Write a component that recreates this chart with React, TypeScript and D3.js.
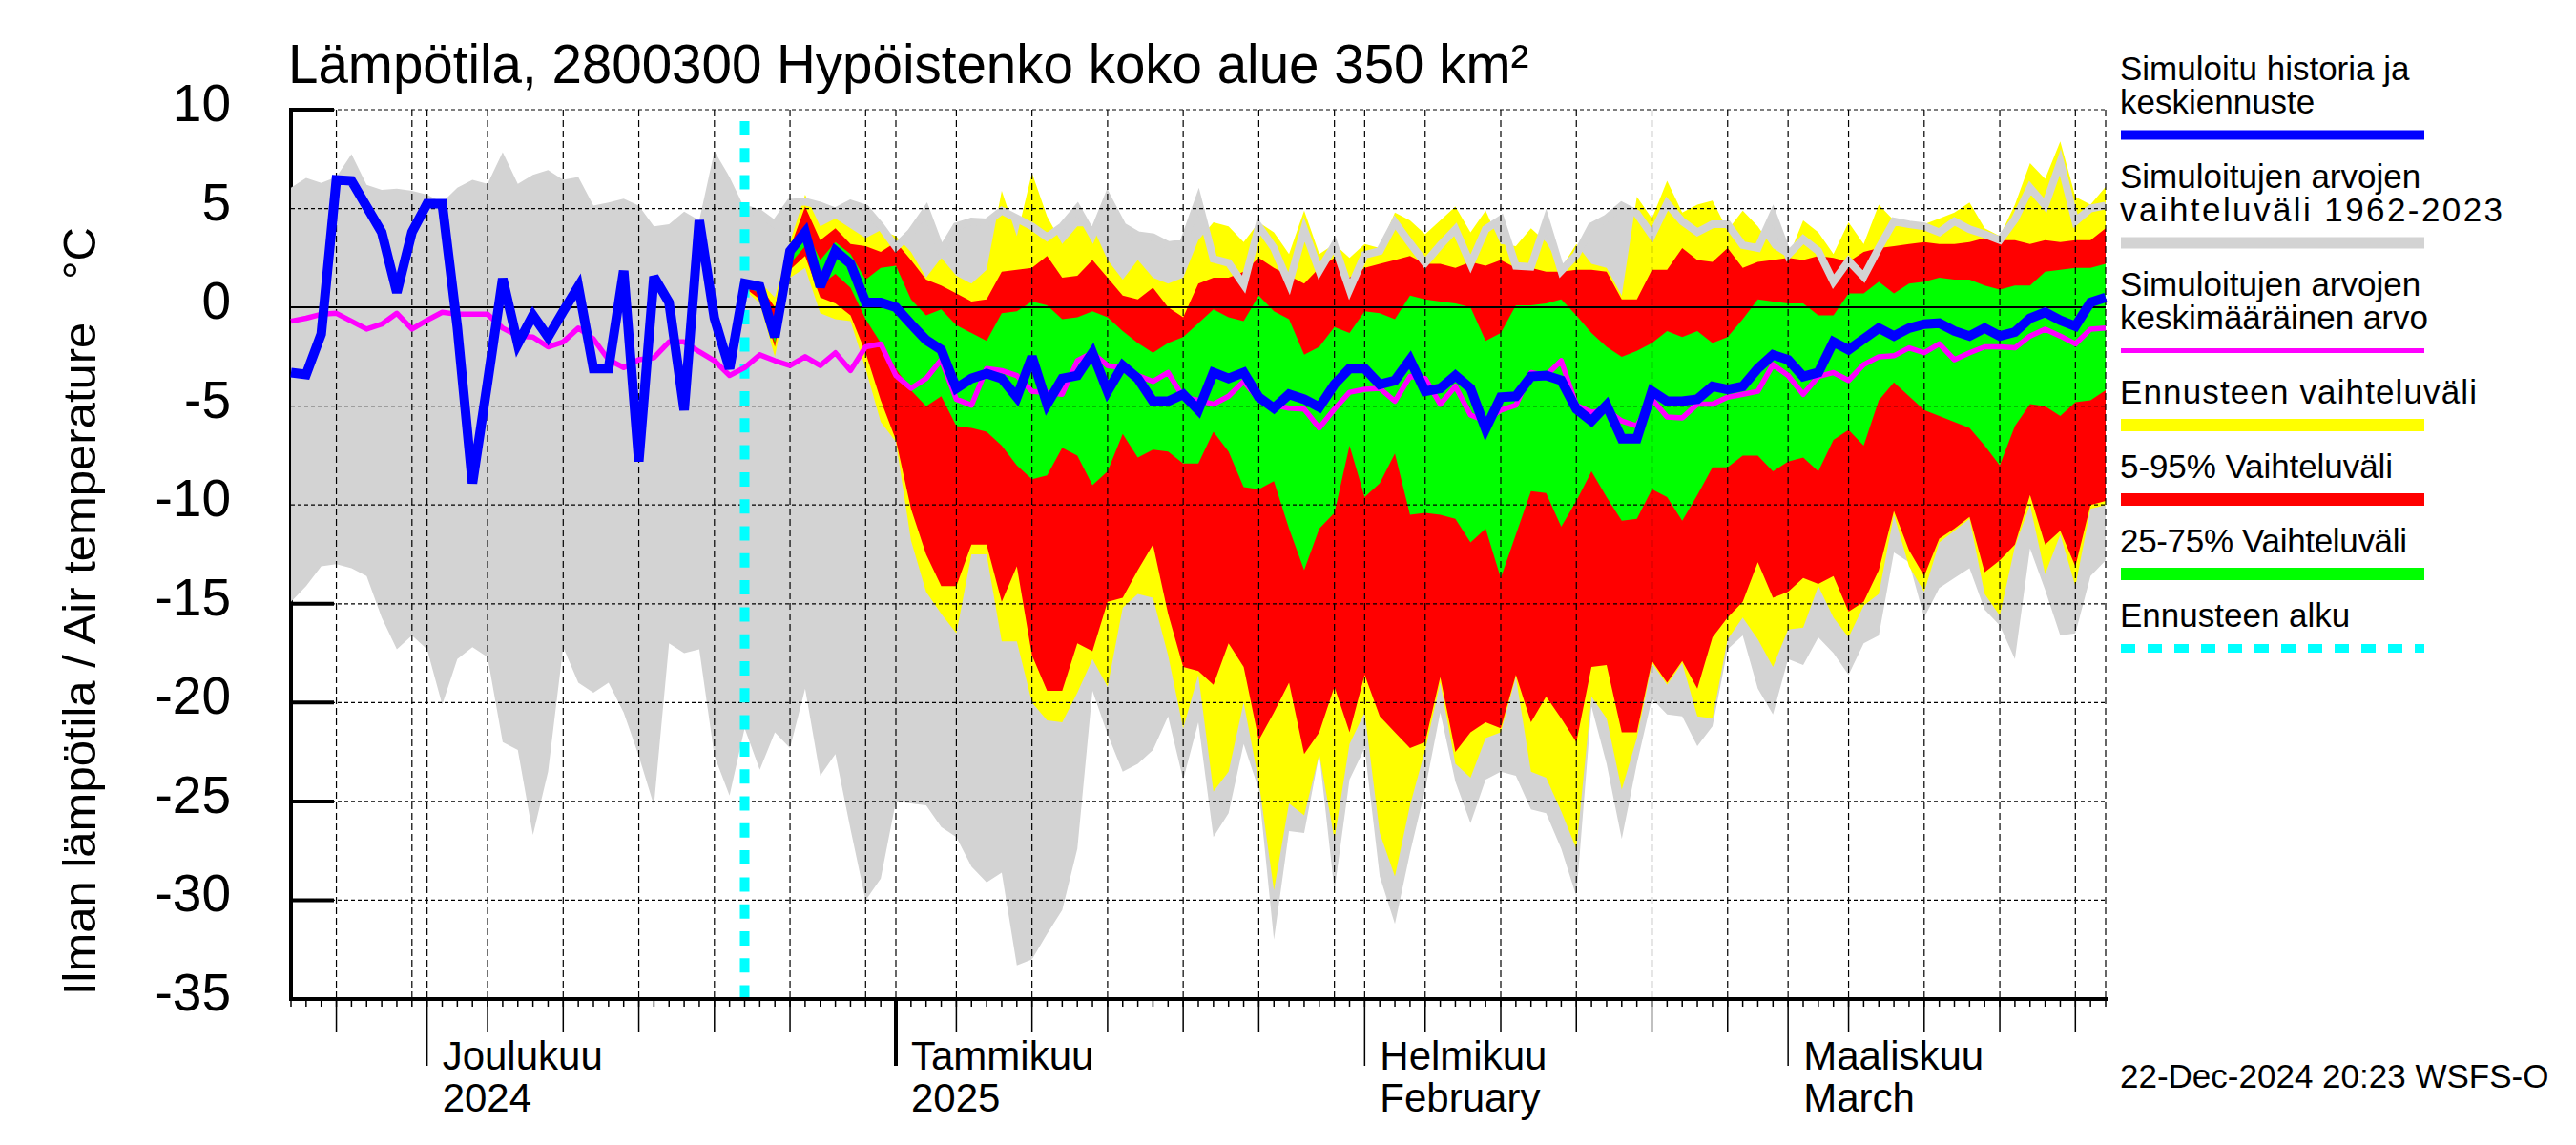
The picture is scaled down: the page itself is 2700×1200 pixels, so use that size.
import React from "react";
import * as d3 from "d3";

// Daily values, 22.11.2024 .. 22.3.2025 (121 days)
const START = Date.UTC(2024, 10, 22);
const DAY_MS = 86400000;
const FORECAST_START = 30; // 22.12.2024

// Simuloitu historia ja keskiennuste
const simulated = [
  -3.3, -3.4, -1.35, 6.45, 6.4, 5.1, 3.8, 0.75, 3.8, 5.25, 5.25, -1.0, -8.9, -3.8, 1.45, -1.85, -0.4, -1.5, -0.2, 1.05,
  -3.1, -3.1, 1.85, -7.8, 1.55, 0.25, -5.2, 4.4, -0.55, -3.1,
  1.2, 1.05, -1.5, 2.85, 3.8, 1.05, 2.85, 2.2, 0.25, 0.25, 0.0, -0.85, -1.65, -2.15, -4.1, -3.6, -3.35, -3.6, -4.55, -2.5,
  -4.9, -3.6, -3.45, -2.3, -4.25, -2.95, -3.6, -4.75, -4.75, -4.4,
  -5.2, -3.3, -3.6, -3.3, -4.55, -5.1, -4.4, -4.65, -5.05, -3.9, -3.1, -3.1, -3.9, -3.7, -2.65, -4.25, -4.1, -3.45, -4.1, -6.15,
  -4.55, -4.5, -3.5, -3.45, -3.7, -5.15, -5.75, -4.95, -6.65, -6.65, -4.25, -4.75, -4.75, -4.65, -4.0, -4.15, -4.0, -3.1, -2.4, -2.65,
  -3.5, -3.3, -1.75, -2.15, -1.6, -1.05, -1.45, -1.05, -0.85, -0.8, -1.2, -1.45, -1.05, -1.45, -1.25, -0.55, -0.25, -0.65, -0.95, 0.25,
  0.5,
];

// Simuloitujen arvojen keskimääräinen arvo
const longTermMean = [
  -0.7, -0.55, -0.35, -0.3, -0.7, -1.1, -0.85, -0.3, -1.1, -0.65, -0.25, -0.35, -0.35, -0.35, -1.05, -1.45, -1.5, -2.0, -1.75, -1.05,
  -1.6, -2.65, -3.05, -2.65, -2.55, -1.75, -1.75, -2.25, -2.7, -3.45,
  -3.05, -2.4, -2.7, -2.95, -2.5, -2.95, -2.3, -3.2, -2.0, -1.85, -3.45, -4.1, -3.6, -2.65, -4.65, -4.95, -3.1, -3.2, -3.45, -4.25,
  -4.3, -4.4, -2.7, -2.3, -2.95, -3.05, -3.45, -3.75, -3.3, -4.55,
  -4.7, -4.9, -4.5, -3.75, -4.65, -4.95, -5.1, -5.15, -6.1, -5.15, -4.3, -4.15, -4.1, -4.75, -3.5, -3.6, -4.9, -4.0, -5.45, -5.75,
  -5.2, -4.95, -3.3, -3.45, -2.7, -4.95, -5.3, -5.2, -5.75, -6.0, -4.65, -5.55, -5.6, -4.9, -4.9, -4.55, -4.4, -4.25, -2.9, -3.45,
  -4.4, -3.5, -3.3, -3.7, -2.9, -2.5, -2.45, -2.05, -2.3, -1.85, -2.65, -2.3, -2.0, -2.0, -2.05, -1.45, -1.1, -1.45, -1.85, -1.1,
  -1.05,
];

// Simuloitujen arvojen vaihteluväli 1962-2023
const histMax = [
  6.05, 6.55, 6.3, 6.6, 7.75, 6.2, 5.95, 6.0, 5.9, 5.7, 5.3, 6.05, 6.45, 6.25, 7.85, 6.25, 6.7, 6.95, 6.45, 6.6,
  5.15, 5.3, 5.5, 5.15, 4.1, 4.2, 4.85, 4.4, 7.9, 6.6,
  5.0, 4.75, 4.2, 5.3, 5.35, 5.15, 4.85, 5.25, 5.0, 4.1, 3.05, 3.8, 4.9, 2.85, 4.1, 4.35, 4.3, 4.9, 4.5, 4.1,
  3.55, 4.1, 5.0, 3.65, 5.55, 4.1, 3.65, 3.55, 3.15, 3.25,
  5.4, 2.45, 2.25, 1.15, 4.1, 3.0, 1.2, 3.95, 1.85, 3.15, 0.9, 2.65, 2.85, 4.3, 3.25, 2.25, 3.15, 3.95, 2.2, 3.95,
  4.45, 2.1, 2.05, 4.35, 1.85, 2.65, 4.1, 4.5, 5.15, 4.75, 3.65, 5.25, 4.35, 3.8, 4.2, 4.2, 3.15, 3.0, 4.7, 2.65,
  3.45, 2.85, 1.3, 2.35, 1.55, 3.0, 4.35, 4.2, 4.1, 3.8, 4.35, 3.95, 3.7, 3.4, 4.45, 6.05, 5.15, 7.35, 4.35, 5.0,
  5.15,
];
const histMin = [
  -14.9, -14.1, -13.1, -13.0, -13.2, -13.6, -15.7, -17.3, -16.6, -17.3, -20.1, -17.8, -17.2, -17.7, -22.0, -22.4, -26.7, -23.5, -17.2, -19.0,
  -19.5, -19.0, -20.5, -22.7, -25.2, -17.0, -17.5, -17.3, -22.7, -24.7,
  -21.3, -23.4, -21.5, -22.3, -19.3, -23.7, -22.6, -26.4, -30.0, -28.9, -25.0, -25.1, -25.2, -26.3, -26.8, -28.3, -29.1, -28.6, -33.3, -33.0,
  -31.7, -30.5, -27.4, -19.4, -21.6, -23.5, -23.1, -22.4, -20.7, -23.9,
  -21.0, -26.8, -25.6, -22.1, -24.4, -32.0, -26.5, -26.6, -22.6, -29.5, -23.9, -22.3, -28.8, -31.2, -27.6, -24.4, -20.5, -24.0, -26.1, -23.9,
  -23.5, -23.7, -25.4, -25.6, -27.4, -29.8, -20.2, -23.1, -26.9, -23.1, -19.8, -20.6, -20.7, -22.2, -21.2, -17.3, -16.6, -19.3, -20.6, -17.8,
  -18.1, -16.7, -17.5, -18.6, -17.0, -16.6, -12.4, -12.9, -15.7, -14.2, -13.7, -13.2, -15.3, -16.1, -17.8, -12.2, -14.3, -16.6, -16.5, -13.6,
  -12.8,
];

// Forecast bands, 22.12.2024 .. 22.3.2025 (91 days)
const fcMax = [
  1.4, 1.3, 0.5, 3.3, 5.7, 4.1, 4.5, 4.0, 3.5, 3.9, 3.6, 2.8, 1.5, 2.5, 1.6, 1.2, 1.9, 5.9, 3.6, 6.8,
  4.6, 3.2, 4.1, 4.1, 2.4, 1.4, 2.4, 1.5, 1.2, 1.5,
  3.4, 4.3, 4.1, 3.3, 4.3, 3.8, 2.7, 4.9, 2.7, 3.2, 2.5, 3.2, 3.0, 4.8, 4.4, 3.7, 4.4, 5.1, 3.8, 4.9,
  3.2, 3.1, 4.0, 3.3, 2.0, 3.2, 2.2, 2.0, 0.6, 5.6, 4.5, 6.4, 4.8, 5.2, 5.4, 3.9, 4.9, 4.1, 3.0, 2.5,
  4.4, 3.8, 2.7, 4.3, 3.2, 5.2, 4.4, 4.1, 4.2, 4.5, 4.8, 5.3, 4.0, 3.6, 5.2, 7.3, 6.5, 8.4, 5.6, 5.2,
  6.1,
];
const fc95 = [
  1.3, 1.1, 0.0, 3.0, 5.1, 3.4, 4.0, 3.2, 3.1, 2.8, 3.3, 2.4, 1.4, 1.1, 0.7, 0.3, 0.4, 1.8, 1.9, 2.0,
  2.6, 1.5, 1.6, 2.4, 1.5, 0.6, 0.4, 1.0, 0.0, -0.5,
  1.2, 1.5, 1.5, 1.8, 2.5, 2.0, 1.6, 1.2, 2.0, 2.5, 1.5, 2.0, 2.2, 2.4, 2.6, 2.2, 2.2, 2.0, 2.3, 2.1,
  2.4, 2.0, 2.0, 1.8, 1.8, 1.9, 1.9, 1.8, 0.4, 0.4, 1.9, 1.9, 3.0, 2.4, 2.3, 3.0, 2.0, 2.3, 2.4, 2.5,
  2.4, 2.6, 2.5, 2.3, 2.8, 3.0, 3.1, 3.2, 3.3, 3.2, 3.2, 3.3, 3.5, 3.4, 3.4, 3.2, 3.4, 3.3, 3.4, 3.4,
  4.0,
];
const fc75 = [
  1.2, 0.9, -1.3, 2.8, 4.0, 2.4, 3.3, 2.7, 1.4, 2.0, 2.1, 0.4, -0.4, -0.1, -0.9, -1.3, -1.7, -0.3, -0.2, 0.3,
  0.1, -0.6, -0.5, -0.2, -0.5, -1.2, -1.8, -2.3, -1.8, -1.5,
  -0.8, -0.1, -0.5, -0.7, 0.6, -0.2, -0.6, -2.4, -2.0, -1.0, -1.3, -0.2, -0.3, -0.6, 0.6, 0.4, 0.3, 0.2, 0.0, -1.7,
  -1.3, 0.1, 0.1, 0.2, 0.4, -0.4, -1.3, -2.0, -2.5, -2.2, -1.8, -1.2, -1.5, -1.2, -1.8, -1.5, -0.6, 0.4, 0.3, 0.2,
  0.2, -0.4, -0.4, 0.7, 0.7, 1.3, 0.7, 1.2, 1.3, 1.5, 1.4, 1.4, 1.1, 0.9, 1.1, 1.1, 1.8, 1.9, 2.0, 2.0,
  2.2,
];
const fc25 = [
  1.1, 0.7, -1.8, 2.2, 3.1, 1.1, 1.7, 1.0, -0.6, -1.8, -3.1, -4.2, -5.0, -4.5, -6.0, -6.1, -6.3, -7.0, -8.0, -8.7,
  -8.5, -7.1, -7.5, -9.0, -8.3, -6.4, -7.6, -7.2, -7.3, -7.9,
  -7.9, -6.3, -7.3, -9.1, -9.2, -8.8, -11.2, -13.3, -11.2, -10.4, -7.0, -9.6, -8.9, -7.4, -10.5, -10.4, -10.5, -10.7, -11.9, -11.2,
  -13.7, -11.5, -9.3, -9.4, -11.1, -9.8, -8.3, -9.6, -10.8, -10.7, -9.2, -9.6, -10.8, -9.5, -8.1, -8.1, -7.5, -7.5, -8.3, -7.8,
  -7.6, -8.3, -6.7, -6.2, -7.0, -4.7, -3.8, -4.5, -5.2, -5.5, -5.8, -6.1, -7.0, -8.0, -6.0, -4.9, -5.0, -5.5, -4.8, -4.7,
  -4.2,
];
const fc5 = [
  1.0, 0.4, -2.0, 1.9, 2.6, 0.5, 0.2, -0.4, -2.3, -4.7, -6.7, -10.2, -12.5, -14.1, -14.1, -12.0, -12.0, -14.9, -13.1, -17.6,
  -19.4, -19.4, -17.0, -17.4, -14.9, -14.7, -13.3, -12.0, -15.5, -18.2,
  -18.4, -19.1, -17.0, -18.2, -21.9, -20.5, -19.0, -22.6, -21.5, -19.2, -21.5, -18.6, -20.7, -21.5, -22.3, -22.0, -18.7, -22.5, -21.5, -21.0,
  -21.3, -18.6, -21.0, -19.7, -20.8, -22.0, -18.2, -18.1, -21.5, -21.5, -17.9, -19.0, -17.9, -19.3, -16.7, -15.7, -14.9, -12.9, -14.7, -14.4,
  -13.7, -14.0, -13.6, -15.4, -14.9, -13.3, -10.3, -12.3, -13.6, -11.7, -11.2, -10.6, -13.4, -12.8, -12.0, -9.5, -12.0, -11.3, -13.1, -10.0,
  -9.8,
];
const fcMin = [
  0.9, 0.2, -2.5, 1.5, 2.0, -0.3, -0.6, -0.7, -3.1, -5.8, -6.8, -11.8, -14.4, -15.5, -16.5, -12.5, -12.5, -16.9, -16.9, -20.0,
  -20.9, -21.0, -19.5, -17.8, -19.2, -15.2, -14.5, -14.7, -17.6, -21.3,
  -18.6, -24.5, -23.5, -20.0, -24.0, -29.5, -25.1, -25.7, -22.6, -26.9, -22.1, -20.5, -26.6, -28.8, -25.2, -22.4, -19.0, -23.1, -23.8, -21.8,
  -21.5, -18.7, -23.5, -23.8, -25.5, -27.4, -19.7, -20.8, -24.4, -21.8, -18.0, -19.1, -18.0, -20.7, -20.8, -16.8, -15.7, -16.8, -18.2, -16.3,
  -16.2, -14.1, -15.7, -16.7, -15.1, -14.5, -10.5, -13.1, -14.4, -11.9, -11.3, -10.7, -14.5, -15.6, -12.1, -10.0, -13.5, -11.5, -14.1, -10.2,
  -10.0,
];

const yTicks = [10, 5, 0, -5, -10, -15, -20, -25, -30, -35];
const monthLabels = [
  ["Joulukuu", "2024"],
  ["Tammikuu", "2025"],
  ["Helmikuu", "February"],
  ["Maaliskuu", "March"],
];

// fit: stretch a legend line to the width it has in the original (wider digits there)
const legendItems = [
  { lines: ["Simuloitu historia ja", "keskiennuste"], color: "#0000ff", width: 10 },
  { lines: ["Simuloitujen arvojen", "vaihteluväli 1962-2023"], fit: [0, 401], color: "#d3d3d3", width: 12 },
  { lines: ["Simuloitujen arvojen", "keskimääräinen arvo"], color: "#ff00ff", width: 5 },
  { lines: ["Ennusteen vaihteluväli"], fit: [374], color: "#ffff00", width: 13 },
  { lines: ["5-95% Vaihteluväli"], fit: [286], color: "#ff0000", width: 13 },
  { lines: ["25-75% Vaihteluväli"], fit: [301], color: "#00ff00", width: 13 },
  { lines: ["Ennusteen alku"], color: "#00ffff", width: 9, dash: "15 13" },
];

const FONT = "'Liberation Sans', Arial, Helvetica, sans-serif";
const W = 2700;
const H = 1200;
const LEFT = 305;
const RIGHT = 2207;
const TOP = 115;
const BOTTOM = 1047;

const App: React.FC = () => {
  const dates = d3.range(simulated.length).map((i) => new Date(START + i * DAY_MS));
  const first = dates[0];
  const last = dates[dates.length - 1];

  const x = d3.scaleUtc().domain([first, last]).range([LEFT, RIGHT]);
  const y = d3.scaleLinear().domain([-35, 10]).range([BOTTOM, TOP]);

  const fcDates = dates.slice(FORECAST_START);

  const band = (lo: number[], hi: number[], ds: Date[]) =>
    d3
      .area<number>()
      .x((_, i) => x(ds[i]))
      .y0((_, i) => y(lo[i]))
      .y1((_, i) => y(hi[i]))(lo) || "";

  const line = (vals: number[], ds: Date[]) =>
    d3
      .line<number>()
      .x((_, i) => x(ds[i]))
      .y((d) => y(d))(vals) || "";

  const days = d3.utcDay.range(first, d3.utcDay.offset(last, 1));
  const months = d3.utcMonth.range(d3.utcDay.offset(first, 1), last);
  const gridDays = days.filter((d) => [1, 5, 10, 15, 20, 25, 30].includes(d.getUTCDate()));
  const longTickDays = days.filter((d) => [5, 10, 15, 20, 25].includes(d.getUTCDate()));

  const xf = x(dates[FORECAST_START]);

  let legendY = 84;
  const legendRows = legendItems.map((item) => {
    const textYs = item.lines.map((_, k) => legendY + k * 35);
    const lineY = textYs[textYs.length - 1] + 22.5;
    legendY = lineY + 55.5;
    return { ...item, textYs, lineY };
  });

  return (
    <svg
      width={W}
      height={H}
      viewBox={`0 0 ${W} ${H}`}
      style={{ position: "absolute", left: 0, top: 0, background: "#fff" }}
      fontFamily={FONT}
    >
      <rect width={W} height={H} fill="#fff" />

      {/* title */}
      <text x={302} y={87} fontSize={56.5}>
        Lämpötila, 2800300 Hypöistenko koko alue 350 km²
      </text>

      {/* left axis and ticks, under the bands */}
      <line x1={LEFT} x2={LEFT} y1={TOP - 2} y2={BOTTOM} stroke="#000" strokeWidth={4} />
      {yTicks.map((t) => (
        <line key={`yt${t}`} x1={LEFT} x2={LEFT + 45} y1={y(t)} y2={y(t)} stroke="#000" strokeWidth={4} />
      ))}

      {/* bands */}
      <path d={band(histMin, histMax, dates)} fill="#d3d3d3" />
      <path d={band(fcMin, fcMax, fcDates)} fill="#ffff00" />
      <path d={band(fc5, fc95, fcDates)} fill="#ff0000" />
      <path d={band(fc25, fc75, fcDates)} fill="#00ff00" />
      <path
        d={line(histMax.slice(FORECAST_START), fcDates)}
        fill="none"
        stroke="#d3d3d3"
        strokeWidth={8}
        strokeLinejoin="miter"
      />

      {/* grid */}
      {gridDays.map((d) => (
        <line
          key={`vg${d.getTime()}`}
          x1={x(d)}
          x2={x(d)}
          y1={TOP}
          y2={BOTTOM}
          stroke="#000"
          strokeWidth={1.2}
          strokeDasharray="7 4"
        />
      ))}
      <line x1={RIGHT} x2={RIGHT} y1={TOP} y2={BOTTOM} stroke="#000" strokeWidth={1.2} strokeDasharray="7 4" />
      {yTicks
        .filter((t) => t !== -35)
        .map((t) => (
          <line
            key={`hg${t}`}
            x1={LEFT}
            x2={RIGHT}
            y1={y(t)}
            y2={y(t)}
            stroke="#000"
            strokeWidth={t === 0 ? 2 : 1.2}
            strokeDasharray={t === 0 ? undefined : "4 3"}
          />
        ))}

      {/* forecast start */}
      <line x1={xf} x2={xf} y1={TOP + 12} y2={BOTTOM} stroke="#00ffff" strokeWidth={10} strokeDasharray="15 13.3" />

      {/* lines */}
      <path d={line(longTermMean, dates)} fill="none" stroke="#ff00ff" strokeWidth={5.5} strokeLinejoin="round" />
      <path d={line(simulated, dates)} fill="none" stroke="#0000ff" strokeWidth={10} strokeLinejoin="miter" strokeMiterlimit={3} />

      {/* bottom axis */}
      <line x1={LEFT - 2} x2={RIGHT + 2} y1={BOTTOM} y2={BOTTOM} stroke="#000" strokeWidth={4} />
      {days.map((d) => (
        <line key={`dt${d.getTime()}`} x1={x(d)} x2={x(d)} y1={BOTTOM} y2={BOTTOM + 8} stroke="#000" strokeWidth={1.5} />
      ))}
      {longTickDays.map((d) => (
        <line key={`lt${d.getTime()}`} x1={x(d)} x2={x(d)} y1={BOTTOM} y2={BOTTOM + 35} stroke="#000" strokeWidth={1.5} />
      ))}
      {months.map((m, i) => (
        <g key={`m${i}`}>
          <line
            x1={x(m)}
            x2={x(m)}
            y1={BOTTOM}
            y2={BOTTOM + 70}
            stroke="#000"
            strokeWidth={m.getUTCMonth() === 0 ? 4 : 1.5}
          />
          <text x={x(m) + 16} y={1121} fontSize={42}>
            {monthLabels[i][0]}
          </text>
          <text x={x(m) + 16} y={1165} fontSize={42}>
            {monthLabels[i][1]}
          </text>
        </g>
      ))}

      {/* y labels */}
      {yTicks.map((t) => (
        <text key={`yl${t}`} x={242} y={y(t) + 12} fontSize={55} textAnchor="end">
          {t}
        </text>
      ))}
      <text transform="translate(100,1043) rotate(-90)" fontSize={49}>
        Ilman lämpötila / Air temperature
      </text>
      <text transform="translate(100,293) rotate(-90)" fontSize={49}>
        °C
      </text>

      {/* legend */}
      {legendRows.map((r, i) => (
        <g key={`lg${i}`}>
          {r.lines.map((s, k) => {
            const len = r.fit ? r.fit[k] : 0;
            return (
              <text
                key={k}
                x={2222}
                y={r.textYs[k]}
                fontSize={35}
                textLength={len ? len : undefined}
                lengthAdjust={len ? "spacing" : undefined}
              >
                {s}
              </text>
            );
          })}
          <line
            x1={2223}
            x2={2541}
            y1={r.lineY}
            y2={r.lineY}
            stroke={r.color}
            strokeWidth={r.width}
            strokeDasharray={r.dash}
          />
        </g>
      ))}

      <text x={2222} y={1140} fontSize={35}>
        22-Dec-2024 20:23 WSFS-O
      </text>
    </svg>
  );
};

export default App;
